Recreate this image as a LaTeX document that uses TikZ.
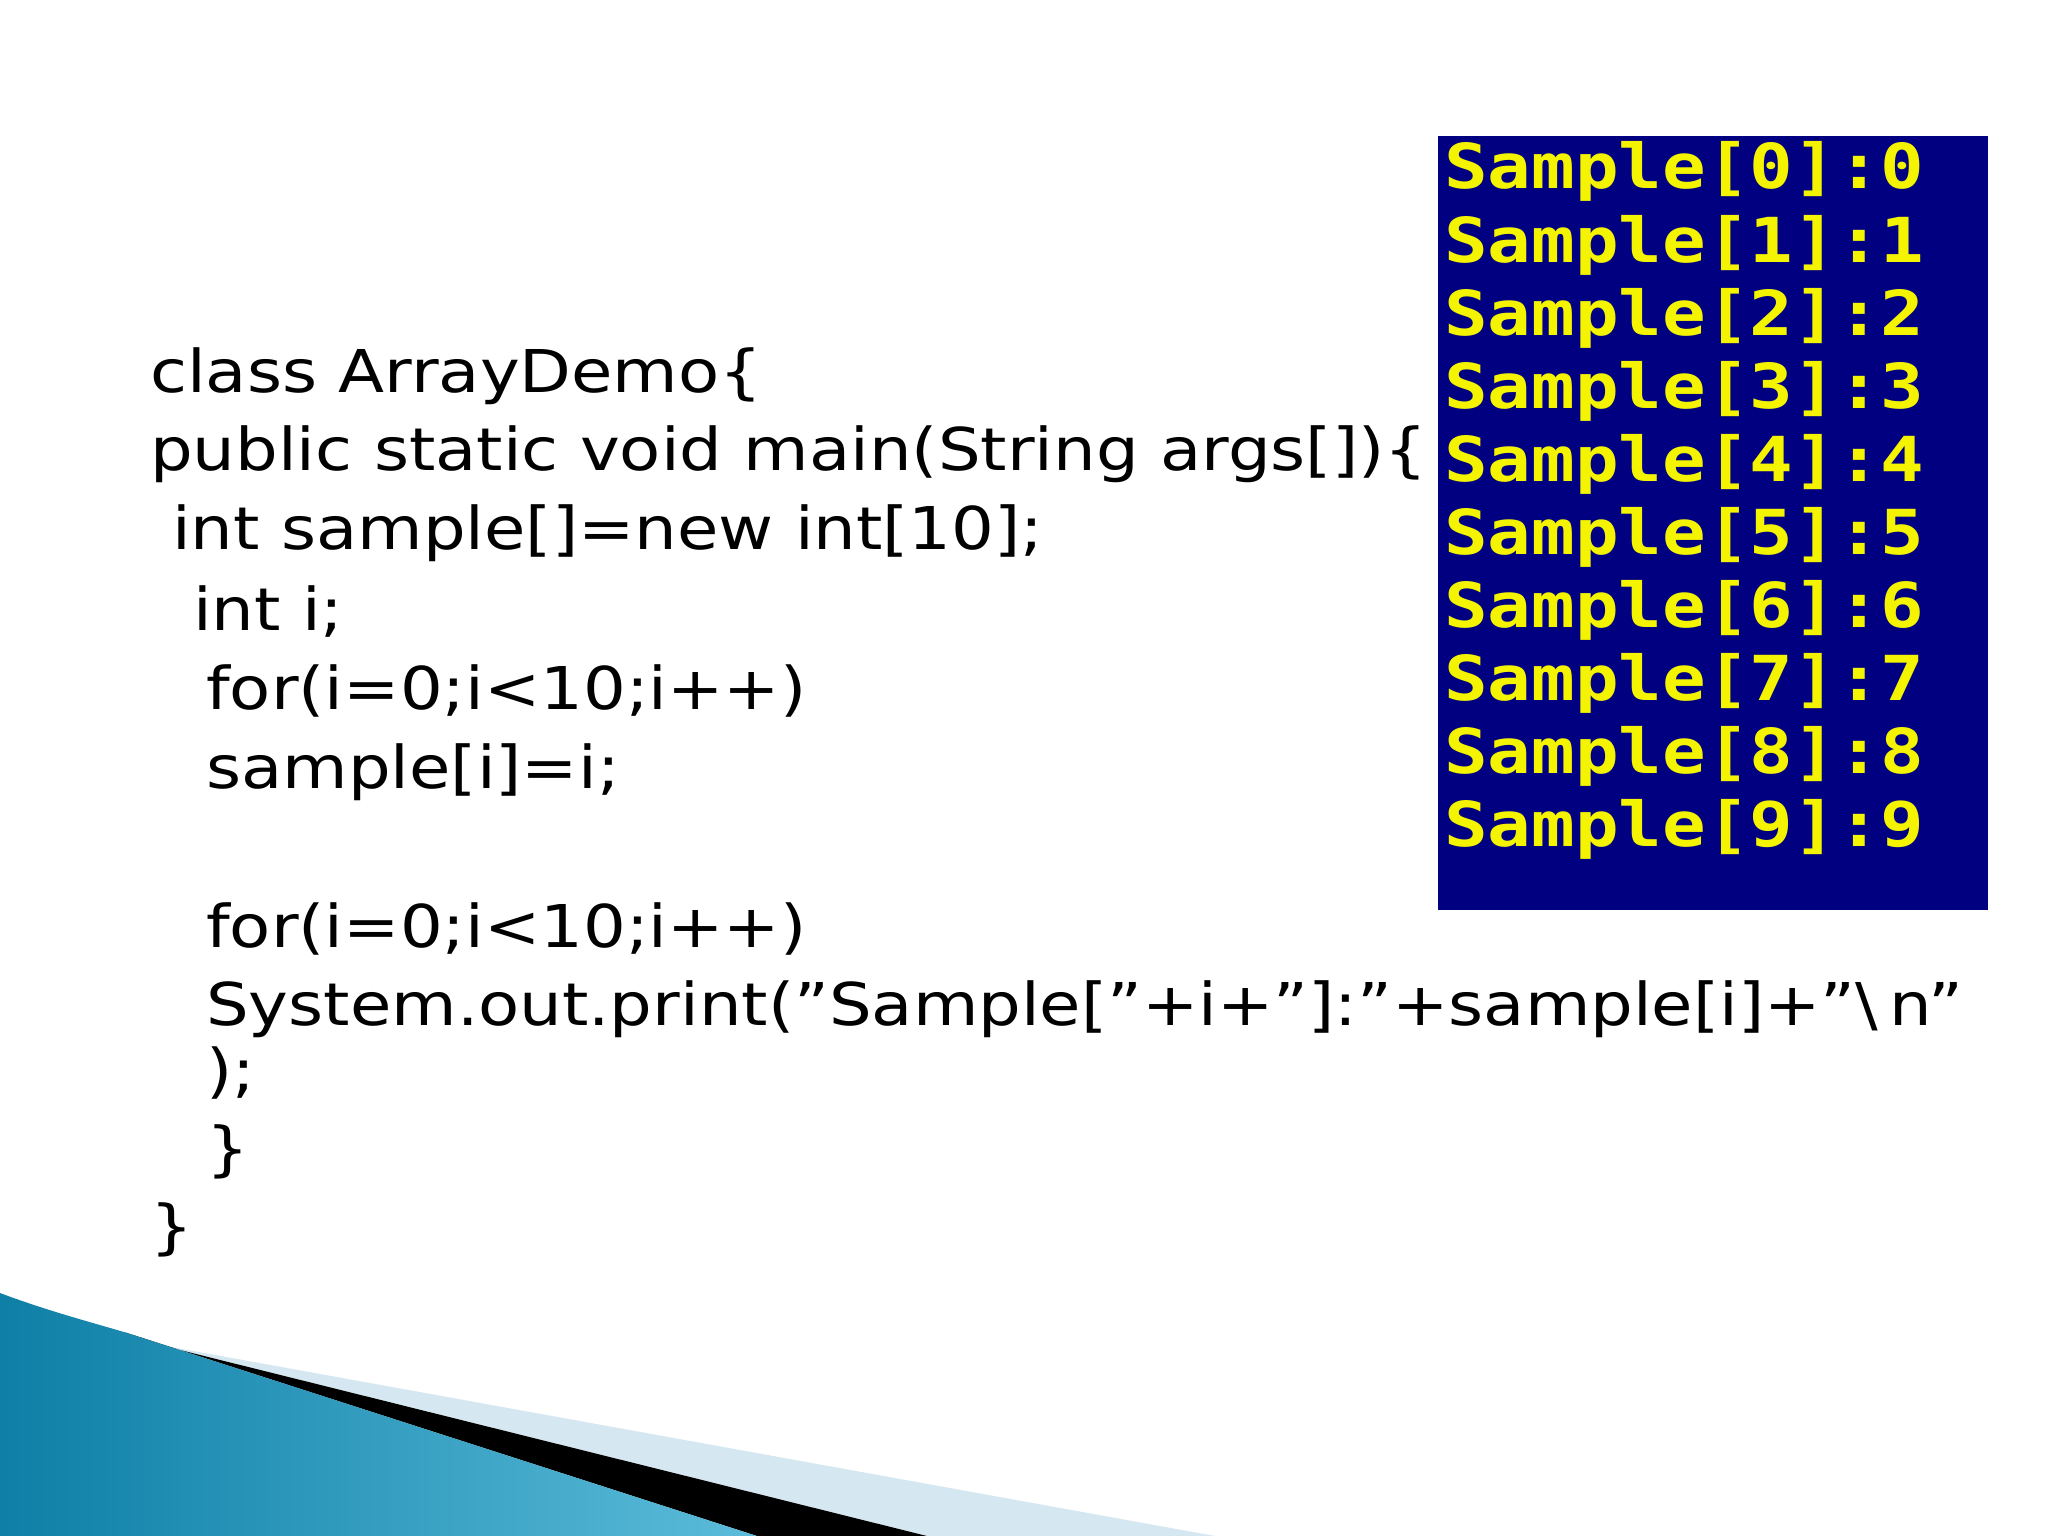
\documentclass[tikz,border=0pt]{standalone}
\usepackage{fontspec}
\setmainfont{DejaVu Sans}
\newfontfamily\consolefont{DejaVu Sans Mono}
\definecolor{conbg}{HTML}{000080}
\definecolor{conyel}{HTML}{F4F400}
\definecolor{tealA}{HTML}{0E7FA6}
\definecolor{tealB}{HTML}{5BBCDA}
\definecolor{strip}{HTML}{D5E7F0}
\newcommand{\dq}{\symbol{34}}
\begin{document}
\begin{tikzpicture}[x=1pt,y=-1pt,
  code/.style={anchor=base west,inner sep=0pt,xscale=1.14,font=\fontsize{59}{59}\selectfont},
  con/.style={anchor=base west,inner sep=0pt,text=conyel,xscale=1.17,font=\consolefont\bfseries\fontsize{62}{62}\selectfont}]
\useasboundingbox (0,0) rectangle (2048,1536);
\fill[white] (0,0) rectangle (2048,1536);
% bottom decoration
\fill[strip] (160,1345) -- (1215,1536) -- (927,1536) -- cycle;
\fill[black] (124,1332) -- (160,1345) -- (927,1536) -- (757,1536) -- cycle;
\shade[left color=tealA,right color=tealB] (0,1293) .. controls (45,1310) and (90,1322) .. (124,1332) -- (757,1536) -- (0,1536) -- cycle;
% console
\node[fill=conbg,minimum width=550pt,minimum height=774pt,anchor=north west,inner sep=0pt] (console) at (1438,136) {};
\foreach \i in {0,...,9} {
  \node[con] (s\i) at (1444,189+73*\i) {Sample[\i]:\i};
}
% code
\node[code] (l1) at (150,392) {class ArrayDemo\{};
\node[code] (l2) at (150,470) {public static void main(String args[])\{};
\node[code] (l3) at (172,549) {int sample[]=new int[10];};
\node[code] (l4) at (193,630) {int i;};
\node[code] (l5) at (206,709) {for(i=0;i<10;i++)};
\node[code] (l6) at (206,788) {sample[i]=i;};
\node[code] (l7) at (206,947) {for(i=0;i<10;i++)};
\node[code] (l8) at (206,1025) {System.out.print(\dq Sample[\dq+i+\dq]:\dq+sample[i]+\dq\textbackslash\,n\dq};
\node[code] (l9) at (206,1091) {);};
\node[code] (l10) at (206,1169) {\}};
\node[code] (l11) at (150,1247) {\}};
\end{tikzpicture}
\end{document}
